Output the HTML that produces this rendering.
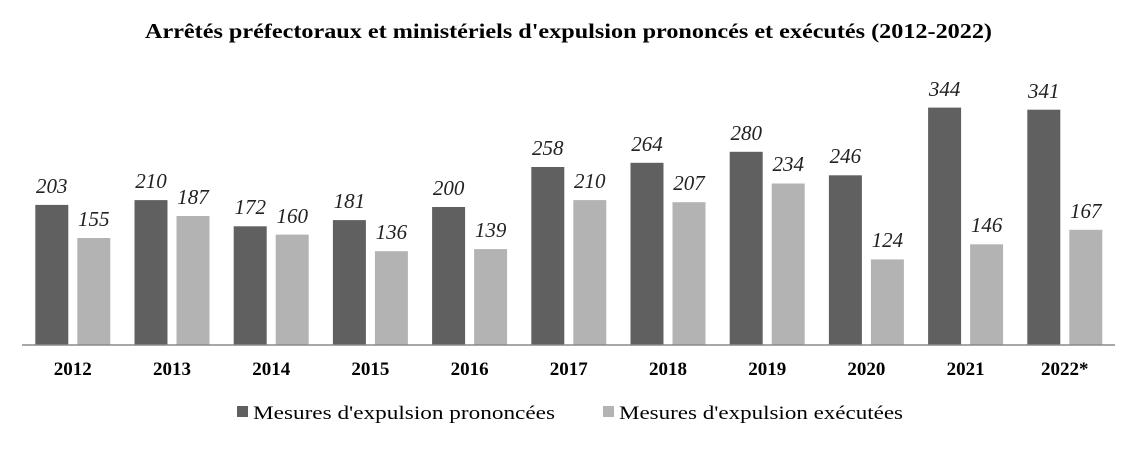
<!DOCTYPE html>
<html><head><meta charset="utf-8"><style>body{margin:0;background:#fff}</style></head><body>
<svg width="1137" height="446" xmlns="http://www.w3.org/2000/svg" font-family="'Liberation Serif',serif">
<rect width="1137" height="446" fill="#fff"/>
<text x="145" y="38" font-size="21" font-weight="bold" textLength="847" lengthAdjust="spacingAndGlyphs">Arrêtés préfectoraux et ministériels d'expulsion prononcés et exécutés (2012-2022)</text>
<g fill="#606060">
<rect x="35.3" y="204.9" width="33" height="140.1"/>
<rect x="134.5" y="200.1" width="33" height="144.9"/>
<rect x="233.7" y="226.3" width="33" height="118.7"/>
<rect x="332.9" y="220.1" width="33" height="124.9"/>
<rect x="432.1" y="207" width="33" height="138"/>
<rect x="531.3" y="167" width="33" height="178"/>
<rect x="630.5" y="162.8" width="33" height="182.2"/>
<rect x="729.7" y="151.8" width="33" height="193.2"/>
<rect x="828.9" y="175.3" width="33" height="169.7"/>
<rect x="928.1" y="107.6" width="33" height="237.4"/>
<rect x="1027.3" y="109.7" width="33" height="235.3"/>
</g>
<g fill="#b3b3b3">
<rect x="77.3" y="238" width="33" height="107"/>
<rect x="176.5" y="216" width="33" height="129"/>
<rect x="275.7" y="234.6" width="33" height="110.4"/>
<rect x="374.9" y="251.2" width="33" height="93.8"/>
<rect x="474.1" y="249.1" width="33" height="95.9"/>
<rect x="573.3" y="200.1" width="33" height="144.9"/>
<rect x="672.5" y="202.2" width="33" height="142.8"/>
<rect x="771.7" y="183.5" width="33" height="161.5"/>
<rect x="870.9" y="259.4" width="33" height="85.6"/>
<rect x="970.1" y="244.3" width="33" height="100.7"/>
<rect x="1069.3" y="229.8" width="33" height="115.2"/>
</g>
<g font-size="21" font-style="italic" fill="#222" text-anchor="middle">
<text x="51.8" y="193">203</text><text x="93.8" y="226">155</text>
<text x="151" y="188">210</text><text x="193" y="204">187</text>
<text x="250.2" y="214">172</text><text x="292.2" y="223">160</text>
<text x="349.4" y="208">181</text><text x="391.4" y="239">136</text>
<text x="448.6" y="195">200</text><text x="490.6" y="237">139</text>
<text x="547.8" y="155">258</text><text x="589.8" y="188">210</text>
<text x="647" y="151">264</text><text x="689" y="190">207</text>
<text x="746.2" y="140">280</text><text x="788.2" y="171">234</text>
<text x="845.4" y="163">246</text><text x="887.4" y="247">124</text>
<text x="944.6" y="96">344</text><text x="986.6" y="232">146</text>
<text x="1043.8" y="98">341</text><text x="1085.8" y="218">167</text>
</g>
<line x1="22" y1="345" x2="1115" y2="345" stroke="#8a8a8a" stroke-width="1.5"/>
<g font-size="19" font-weight="bold" text-anchor="middle">
<text x="72.8" y="375">2012</text><text x="172" y="375">2013</text><text x="271.2" y="375">2014</text>
<text x="370.4" y="375">2015</text><text x="469.6" y="375">2016</text><text x="568.8" y="375">2017</text>
<text x="668" y="375">2018</text><text x="767.2" y="375">2019</text><text x="866.4" y="375">2020</text>
<text x="965.6" y="375">2021</text><text x="1064.8" y="375">2022*</text>
</g>
<rect x="237" y="406" width="11" height="11" fill="#606060"/>
<text x="253" y="419" font-size="19" textLength="302" lengthAdjust="spacingAndGlyphs">Mesures d'expulsion prononcées</text>
<rect x="603" y="406" width="11" height="11" fill="#b3b3b3"/>
<text x="619" y="419" font-size="19" textLength="284" lengthAdjust="spacingAndGlyphs">Mesures d'expulsion exécutées</text>
</svg>
</body></html>
